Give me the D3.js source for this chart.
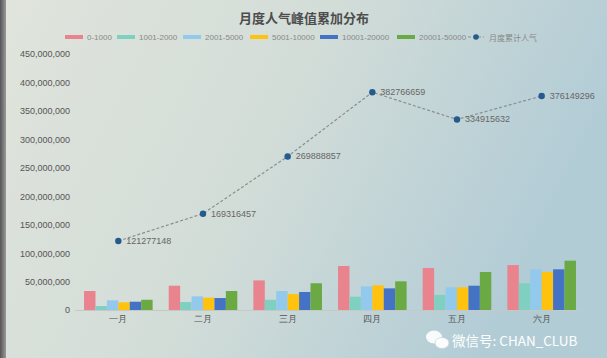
<!DOCTYPE html>
<html><head><meta charset="utf-8">
<script src="https://cdn.jsdelivr.net/npm/d3@7"></script>
<style>
html,body{margin:0;padding:0;}
svg{display:block;font-family:"Noto Sans CJK SC","Open Sans",sans-serif;}
</style></head>
<body>
<svg id="c" width="607" height="358"></svg>
<script>
const months = ["一月","二月","三月","四月","五月","六月"];
const seriesNames = ["0-1000","1001-2000","2001-5000","5001-10000","10001-20000","20001-50000"];
const s0 = [33400000, 42700000, 52000000, 77300000, 73800000, 79000000];
const s1 = [7000000, 14000000, 18000000, 23400000, 26400000, 47000000];
const s2 = [17000000, 24000000, 33400000, 41600000, 39900000, 71500000];
const s3 = [13500000, 21700000, 28000000, 43400000, 39900000, 66800000];
const s4 = [14600000, 21000000, 31600000, 38000000, 42700000, 71500000];
const s5 = [18000000, 33400000, 47000000, 50400000, 66800000, 86700000];
const lineName = "月度累计人气";
const lineValues = [121277148, 169316457, 269888857, 382766659, 334915632, 376149296];
const yTicks = [0,50000000,100000000,150000000,200000000,250000000,300000000,350000000,400000000,450000000];
const colors = ["#e9848f","#7fd0c0","#93c9ec","#ffc20e","#4472c4","#6aa944"];

const svg = d3.select("#c");
const defs = svg.append("defs");
const g = defs.append("linearGradient").attr("id","bg").attr("x1","0").attr("x2","1").attr("y1","0").attr("y2","0.3");
g.append("stop").attr("offset","0").attr("stop-color","#e0e4dc");
g.append("stop").attr("offset","0.5").attr("stop-color","#d3ddd8");
g.append("stop").attr("offset","1").attr("stop-color","#b2ccd6");
svg.append("rect").attr("width",607).attr("height",358).attr("fill","url(#bg)");
const lb = defs.append("linearGradient").attr("id","lb").attr("x1","0").attr("x2","1");
lb.append("stop").attr("offset","0").attr("stop-color","#555");
lb.append("stop").attr("offset","1").attr("stop-color","#9a9a9a");
svg.append("rect").attr("width",6).attr("height",358).attr("fill","url(#lb)");

svg.append("text").attr("x",304).attr("y",23).attr("text-anchor","middle")
  .attr("font-size",13).attr("font-weight","bold").attr("fill","#4d4d4d").text("月度人气峰值累加分布");

const y = d3.scaleLinear().domain([0,450000000]).range([310,54]);
const x0 = d3.scaleBand().domain(months).range([76,584]).paddingInner(0.19).paddingOuter(0.095);
const x1 = d3.scaleBand().domain(seriesNames).range([0,x0.bandwidth()]);

// y axis
const yAxis = d3.axisLeft(y).tickValues(yTicks).tickFormat(d3.format(",")).tickSize(0).tickPadding(4);
const ya = svg.append("g").attr("transform","translate(74,0)").call(yAxis);
ya.select(".domain").remove();
ya.selectAll("text").attr("font-size",9).attr("fill","#555").attr("font-family","Liberation Sans, Arial, sans-serif");

// bars
const all = [s0,s1,s2,s3,s4,s5];
const groups = svg.append("g").selectAll("g").data(months).join("g")
  .attr("transform",d=>`translate(${x0(d)},0)`);
groups.selectAll("rect").data((m,i)=>all.map((s,k)=>({k,v:s[i]}))).join("rect")
  .attr("x",d=>x1(seriesNames[d.k])).attr("width",x1.bandwidth())
  .attr("y",d=>y(d.v)).attr("height",d=>y(0)-y(d.v)).attr("fill",d=>colors[d.k]);

// x axis
const xa = svg.append("g").attr("transform","translate(0,310)").call(d3.axisBottom(x0).tickSize(0).tickPadding(6));
xa.select(".domain").attr("stroke","#c4c9c6").attr("d","M75,0.5H584");
xa.selectAll("text").attr("font-size",9).attr("fill","#555");

// line
const cx = d=>x0(d)+x0.bandwidth()/2;
const line = d3.line().x((d,i)=>cx(months[i])).y(d=>y(d));
svg.append("path").datum(lineValues).attr("d",line).attr("fill","none")
  .attr("stroke","#8a8f8f").attr("stroke-width",1.2).attr("stroke-dasharray","3,2");
svg.append("g").selectAll("circle").data(lineValues).join("circle")
  .attr("cx",(d,i)=>cx(months[i])).attr("cy",d=>y(d)).attr("r",3.2).attr("fill","#245a8c");
svg.append("g").selectAll("text").data(lineValues).join("text")
  .attr("x",(d,i)=>cx(months[i])+8).attr("y",d=>y(d)+3).attr("font-size",9)
  .attr("fill","#666").attr("font-family","Liberation Sans, Arial, sans-serif").text(d=>d);

// legend
const legendX = [65,117,183,250,320,397];
const lg = svg.append("g");
seriesNames.forEach((n,i)=>{
  lg.append("rect").attr("x",legendX[i]).attr("y",35).attr("width",18).attr("height",4).attr("fill",colors[i]);
  lg.append("text").attr("x",legendX[i]+22).attr("y",40).attr("font-size",8).attr("fill","#888")
    .attr("font-family","Liberation Sans, Arial, sans-serif").text(n);
});
lg.append("line").attr("x1",468).attr("x2",484).attr("y1",37).attr("y2",37)
  .attr("stroke","#8a8f8f").attr("stroke-dasharray","3,2");
lg.append("circle").attr("cx",476).attr("cy",37).attr("r",2.8).attr("fill","#245a8c");
lg.append("text").attr("x",489).attr("y",40.5).attr("font-size",8).attr("fill","#888").text(lineName);

// watermark
const wm = svg.append("g").attr("fill","#fff");
wm.append("ellipse").attr("cx",434).attr("cy",337).attr("rx",8).attr("ry",6.5).attr("opacity",0.9);
wm.append("ellipse").attr("cx",442).attr("cy",343).attr("rx",7).attr("ry",5.5).attr("opacity",0.95)
  .attr("stroke","#c8d6da").attr("stroke-width",0.8);
wm.append("text").attr("x",452).attr("y",346).attr("font-size",13.5).attr("fill","#fff")
  .text("微信号: CHAN_CLUB");
</script>
</body></html>
